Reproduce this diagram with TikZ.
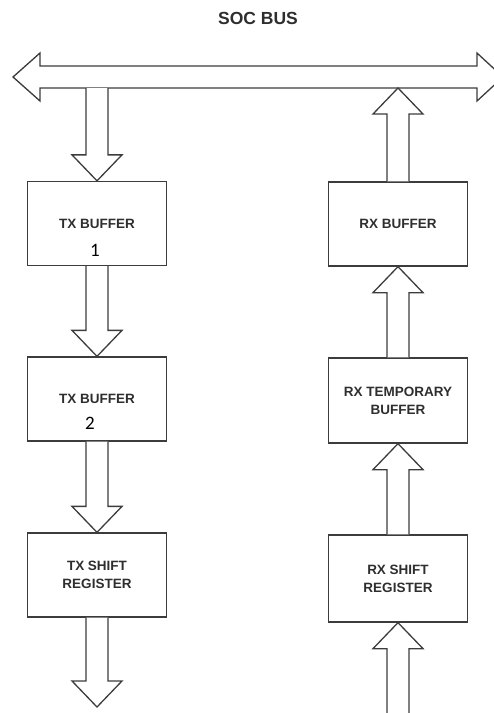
\documentclass[tikz,border=0pt]{standalone}
\usepackage{fontspec}
\setmainfont{Liberation Sans}
\newfontfamily\digitfont{Carlito}
\usetikzlibrary{calc}
\definecolor{linec}{HTML}{3C3C3C}
\definecolor{textc}{HTML}{2E2E2E}
\tikzset{
  blockbox/.style={draw=linec, line width=1.3pt, rectangle, minimum width=139pt, inner sep=0pt,
    align=center, font=\fontsize{13.5}{18}\selectfont\bfseries, text=textc},
  blockarr/.style={draw=linec, line width=1.3pt, line join=miter, fill=white},
  digitlabel/.style={font=\digitfont\fontsize{19}{20}\selectfont, text=black, inner sep=0pt},
  titlelabel/.style={font=\fontsize{17.5}{20}\selectfont\bfseries, text=textc, inner sep=0pt}
}
% #1 start, #2 tip, #3 = 1 for downward, -1 for upward
\newcommand\blockarrowdraw[3]{%
  \draw[blockarr] ($(#2|-#1)+(-11,0)$) -- ($(#2)+(-11,{-26*#3})$) -- ($(#2)+(-25,{-26*#3})$)
    -- (#2) -- ($(#2)+(25,{-26*#3})$) -- ($(#2)+(11,{-26*#3})$) -- ($(#2|-#1)+(11,0)$);}
\begin{document}
\begin{tikzpicture}[x=1pt,y=-1pt]
\useasboundingbox (0,0) rectangle (494,713);
\clip (0,0) rectangle (494,713);

\node[titlelabel] (title) at (258,18) {SOC BUS};

% SOC bus double arrow
\coordinate (busL) at (13,77);
\coordinate (busR) at (503,77);
\draw[blockarr] (busL) -- (40,53) -- (40,66) -- (477,66) -- (477,53) -- (busR)
  -- (477,101) -- (477,88) -- (40,88) -- (40,101) -- cycle;
\coordinate (busTX) at (97,88);
\coordinate (busRX) at (398,88);

% TX column
\node[blockbox, minimum height=84pt] (tx1) at (97,223.5) {TX BUFFER};
\node[digitlabel] (n1) at (95,250) {1};
\node[blockbox, minimum height=84pt] (tx2) at (97,399) {TX BUFFER};
\node[digitlabel] (n2) at (90,423) {2};
\node[blockbox, minimum height=84pt] (tx3) at (97,575) {TX SHIFT\\REGISTER};
\coordinate (txout) at (97,707);

% RX column
\node[blockbox, minimum height=84pt] (rx1) at (398,224) {RX BUFFER};
\node[blockbox, minimum height=85pt] (rx2) at (398,400.5) {RX TEMPORARY\\BUFFER};
\node[blockbox, minimum height=87pt] (rx3) at (398,578.5) {RX SHIFT\\REGISTER};
\coordinate (rxin) at (398,716);

% TX arrows (downward)
\blockarrowdraw{busTX}{tx1.north}{1}
\blockarrowdraw{tx1.south}{tx2.north}{1}
\blockarrowdraw{tx2.south}{tx3.north}{1}
\blockarrowdraw{tx3.south}{txout}{1}

% RX arrows (upward)
\blockarrowdraw{rxin}{rx3.south}{-1}
\blockarrowdraw{rx3.north}{rx2.south}{-1}
\blockarrowdraw{rx2.north}{rx1.south}{-1}
\blockarrowdraw{rx1.north}{busRX}{-1}
\end{tikzpicture}
\end{document}
